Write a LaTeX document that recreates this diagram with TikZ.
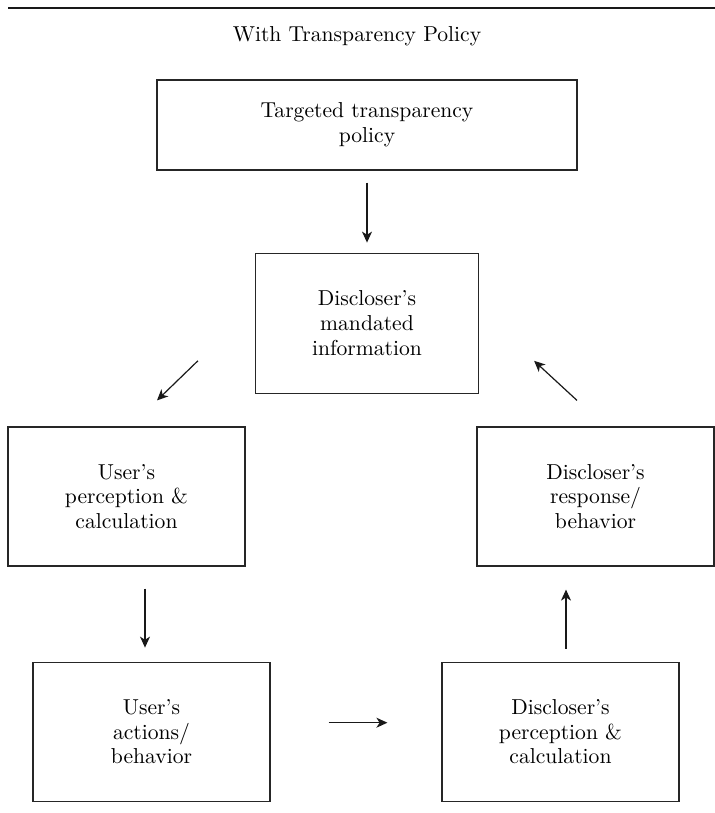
\documentclass[tikz,border=0pt]{standalone}
\usepackage{tikz}
\usetikzlibrary{arrows.meta,positioning}

\begin{document}
\begin{tikzpicture}[%
    >={Stealth[length=5.5pt,width=5pt,inset=1.6pt]},align=center,
    every node/.style={font=\fontsize{10.8}{12.4}\selectfont}]
    \tikzstyle{box}=[text centered,rectangle,fill=white,draw=black!85,%
      line width=0.6pt,inner sep=0pt]
    % All box styles
    \tikzstyle{policy}=[box,minimum width=210pt,minimum height=45pt]
    \tikzstyle{mandated}=[box,minimum width=111.5pt,minimum height=70pt]
    \tikzstyle{stage}=[box,minimum width=118.5pt,minimum height=69.5pt]
    \tikzstyle{link}=[->,line width=0.6pt,draw=black!90]
    \useasboundingbox (0,0) rectangle (357.5pt,-406.5pt);
    % Header rule and title
    \draw [line width=0.9pt,black!90] (4pt,-4pt) -- (357.5pt,-4pt);
    \node (title) at (178.5pt,-18pt) {With Transparency Policy};
    % All boxes
    \node (policy) [policy] at (183.5pt,-62.5pt) {Targeted transparency\\policy};
    \node (mandated) [mandated,below=41pt of policy] {Discloser's\\mandated\\information};
    \node (userCalc) [stage] at (63.25pt,-248.25pt) {User's\\perception \&\\calculation};
    \node (disclResponse) [stage] at (297.75pt,-248.25pt) {Discloser's\\response/\\behavior};
    \node (userAction) [stage,below=47.5pt of userCalc,xshift=12.5pt] {User's\\actions/\\behavior};
    \node (disclCalc) [stage,below=47.5pt of disclResponse,xshift=-17.5pt] {Discloser's\\perception \&\\calculation};
    % Edges
    \draw [link,shorten <=6pt,shorten >=5pt] (policy.south) -- (policy.south |- mandated.north);
    \draw [link] ([xshift=-28.5pt,yshift=16.5pt]mandated.south west) -- ([xshift=15.25pt,yshift=13pt]userCalc.north);
    \draw [link,shorten <=11pt,shorten >=7pt] ([xshift=9.25pt]userCalc.south) -- ([xshift=-3.25pt]userAction.north);
    \draw [link,shorten <=29pt,shorten >=27pt] ([yshift=4.5pt]userAction.east) -- ([yshift=4.5pt]disclCalc.west);
    \draw [link,shorten <=6.5pt,shorten >=11.5pt] ([xshift=2.75pt]disclCalc.north) -- ([xshift=-14.75pt]disclResponse.south);
    \draw [link] ([xshift=-9.25pt,yshift=13pt]disclResponse.north) -- ([xshift=27.5pt,yshift=16.5pt]mandated.south east);
\end{tikzpicture}
\end{document}
